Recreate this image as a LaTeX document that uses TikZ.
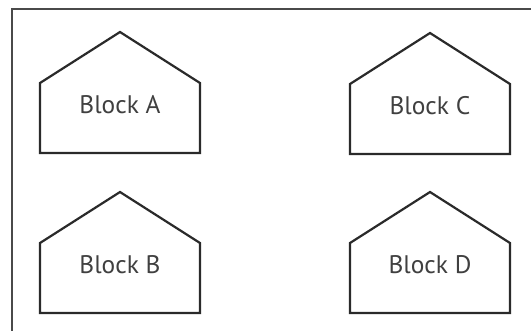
\documentclass[tikz,border=0pt]{standalone}
\usepackage{fontspec}
\setmainfont{PT Sans}
\definecolor{linec}{HTML}{2A2A2A}
\definecolor{textc}{HTML}{404040}
\tikzset{
  house/.style={draw=linec, line width=2.2bp, line join=miter},
  frame/.style={draw=linec!85, line width=2.6bp},
  label/.style={text=textc, font=\fontsize{25.5}{28}\selectfont, inner sep=0pt}
}
\begin{document}
\begin{tikzpicture}[x=1bp,y=-1bp]
\useasboundingbox (0,0) rectangle (531,330);
\clip (0,0) rectangle (531,330);
\fill[white] (0,0) rectangle (531,330);
\coordinate (f1) at (12,340);
\coordinate (f2) at (12,9);
\coordinate (f3) at (540,9);
\draw[frame] (f1) -- (f2) -- (f3);
% houses: centre x, apex y
\foreach \n/\cx/\ty/\txt in {A/120/32/Block A, B/120/192/Block B, C/430/33/Block C, D/430/192/Block D}{
  \draw[house] (\cx-80,\ty+51) -- (\cx,\ty) -- (\cx+80,\ty+51) -- (\cx+80,\ty+121) -- (\cx-80,\ty+121) -- cycle;
  \node[label] (\n) at (\cx,\ty+73) {\txt};
}
\end{tikzpicture}
\end{document}
